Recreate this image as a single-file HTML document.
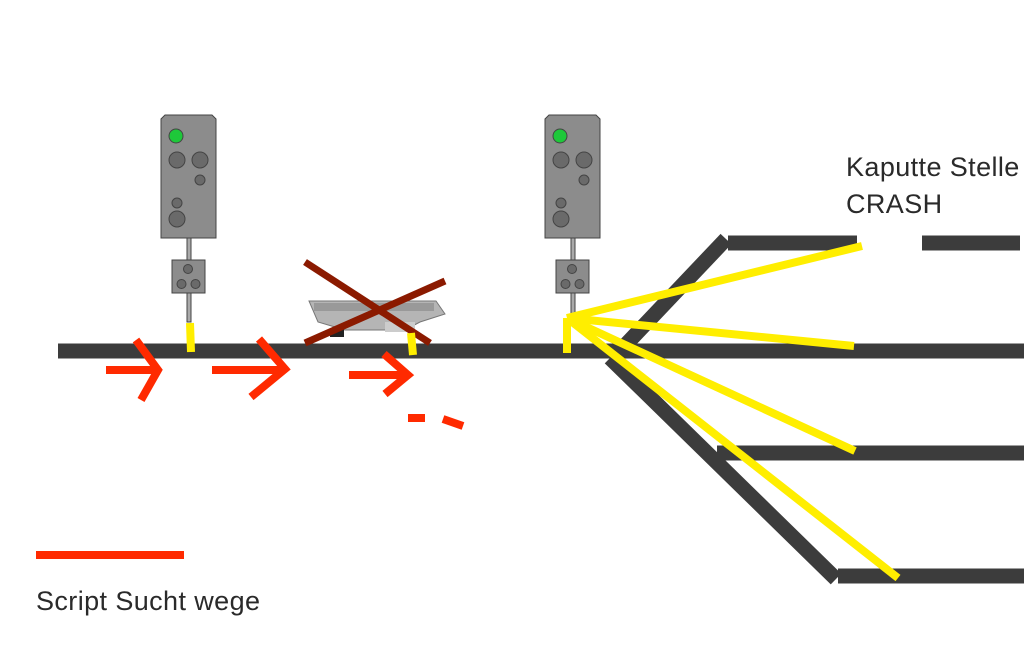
<!DOCTYPE html>
<html><head><style>body{margin:0;background:#fff}svg{display:block}</style></head><body>
<svg width="1024" height="652" xmlns="http://www.w3.org/2000/svg">
<g stroke="#3c3c3c" stroke-width="15" fill="none">
<line x1="58" y1="351" x2="1024" y2="351"/>
<line x1="615" y1="356" x2="726" y2="239"/>
<line x1="728" y1="243" x2="857" y2="243"/>
<line x1="922" y1="243" x2="1020" y2="243"/>
<line x1="610" y1="358" x2="836" y2="579"/>
<line x1="717" y1="453" x2="1024" y2="453"/>
<line x1="838" y1="576" x2="1024" y2="576"/>
</g>
<g id="s1" stroke="#444" stroke-width="1">
<rect x="187" y="236" width="4" height="86" fill="#aaa"/>
<path d="M165,115 H212 L216,119 V238 H161 V119 Z" fill="#8c8c8c"/>
<circle cx="176" cy="136" r="7" fill="#1ec83a"/>
<circle cx="177" cy="160" r="8" fill="#6a6a6a"/>
<circle cx="200" cy="160" r="8" fill="#6a6a6a"/>
<circle cx="200" cy="180" r="5" fill="#6a6a6a"/>
<circle cx="177" cy="203" r="5" fill="#6a6a6a"/>
<circle cx="177" cy="219" r="8" fill="#6a6a6a"/>
<rect x="172" y="260" width="33" height="33" fill="#8c8c8c"/>
<circle cx="188" cy="269" r="4.5" fill="#6a6a6a"/>
<circle cx="181.5" cy="284" r="4.5" fill="#6a6a6a"/>
<circle cx="195.5" cy="284" r="4.5" fill="#6a6a6a"/>
</g>
<use href="#s1" x="384" y="0"/>
<path d="M309,301 H436 L445,314 L420,322 L405,330 H345 L318,322 Z" fill="#b5b5b5" stroke="#777"/>
<rect x="314" y="303" width="120" height="8" fill="#999"/>
<rect x="330" y="328" width="14" height="9" fill="#222"/>
<rect x="385" y="322" width="30" height="10" fill="#ccc"/>
<g stroke="#8b1a00" stroke-width="7">
<line x1="305" y1="262" x2="430" y2="343"/>
<line x1="445" y1="281" x2="305" y2="343"/>
</g>
<g stroke="#ffee00" stroke-width="8" fill="none">
<line x1="190" y1="323" x2="191" y2="352"/>
<line x1="411" y1="333" x2="413" y2="355"/>
<line x1="567" y1="353" x2="567" y2="318"/>
<line x1="567" y1="318" x2="862" y2="246"/>
<line x1="567" y1="318" x2="854" y2="346"/>
<line x1="567" y1="318" x2="855" y2="451"/>
<line x1="567" y1="318" x2="898" y2="578"/>
</g>
<g stroke="#ff2a00" stroke-width="8" fill="none">
<line x1="106" y1="370" x2="158" y2="370"/>
<polyline points="136,340 158,370 141,400"/>
<line x1="212" y1="370" x2="285" y2="370"/>
<polyline points="259,339 285,369 251,397"/>
<line x1="349" y1="375" x2="408" y2="375"/>
<polyline points="384,354 408,375 385,394"/>
<line x1="408" y1="418" x2="425" y2="418"/>
<line x1="443" y1="419" x2="463" y2="426"/>
<line x1="36" y1="555" x2="184" y2="555"/>
</g>
<g font-family="Liberation Sans, sans-serif" font-size="27" fill="#2a2a2a" letter-spacing="0.4">
<text x="36" y="610">Script Sucht wege</text>
<text x="846" y="176">Kaputte Stelle</text>
<text x="846" y="213">CRASH</text>
</g>
</svg>
</body></html>
